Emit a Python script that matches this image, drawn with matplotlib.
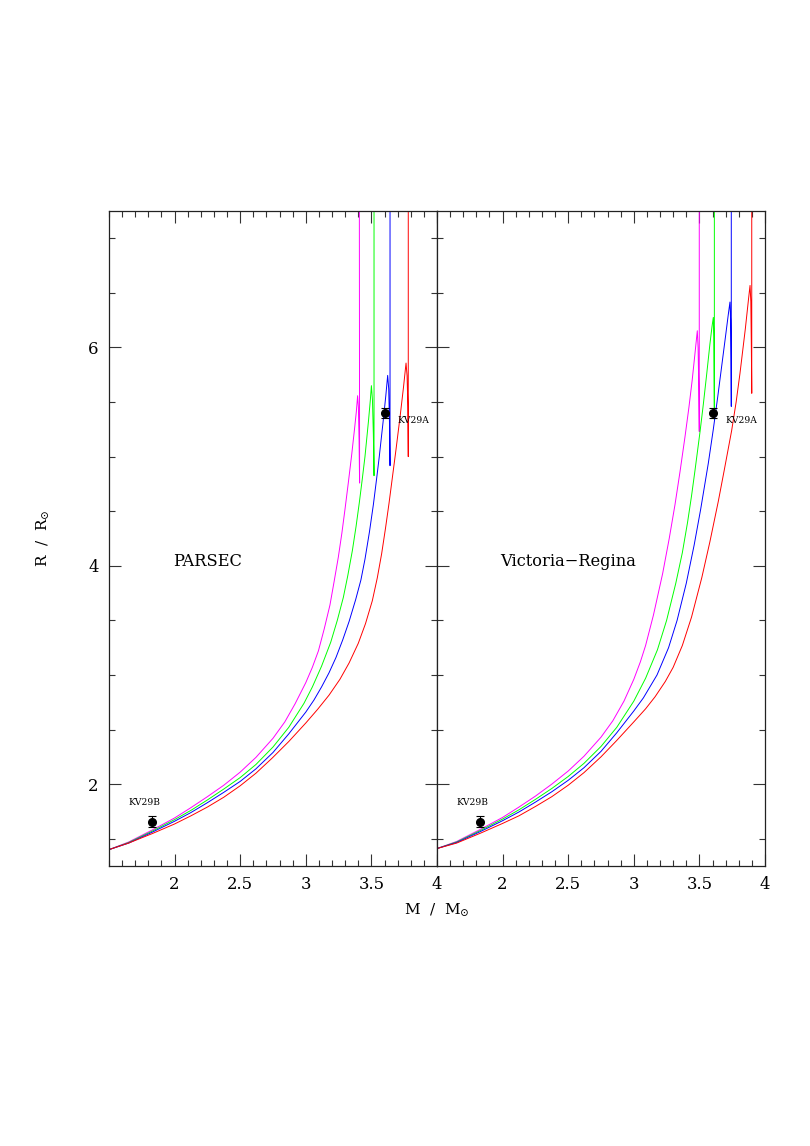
import numpy as np
import matplotlib
matplotlib.use("Agg")
import matplotlib.pyplot as plt
from matplotlib.ticker import MultipleLocator, FixedLocator, NullFormatter

plt.rcParams['font.family'] = ['DejaVu Serif']
plt.rcParams['mathtext.fontset'] = 'dejavuserif'

# -------------------------
# Isochrones, R (Rsun) vs M (Msun)
# -------------------------
# PARSEC
p_mag_m = [1.50, 1.65, 1.83, 2.00, 2.125, 2.25, 2.375, 2.50, 2.62, 2.75, 2.84, 2.918, 3.00, 3.05, 3.096, 3.14,
           3.184, 3.215, 3.248, 3.275, 3.299, 3.325, 3.35, 3.372, 3.385, 3.395, 3.401, 3.406, 3.41, 3.408]
p_mag_r = [1.40, 1.47, 1.58, 1.69, 1.785, 1.885, 1.99, 2.11, 2.245, 2.42, 2.57, 2.735, 2.93, 3.07, 3.22, 3.42,
           3.64, 3.85, 4.08, 4.30, 4.52, 4.77, 5.02, 5.26, 5.41, 5.558, 5.45, 5.15, 4.758, 7.5]

p_grn_m = [1.50, 1.65, 1.83, 2.00, 2.125, 2.25, 2.375, 2.50, 2.62, 2.75, 2.87, 2.986, 3.05, 3.12, 3.19, 3.24,
           3.286, 3.32, 3.355, 3.383, 3.408, 3.43, 3.451, 3.478, 3.492, 3.50, 3.508, 3.515, 3.52, 3.52]
p_grn_r = [1.40, 1.465, 1.57, 1.675, 1.76, 1.855, 1.955, 2.06, 2.18, 2.34, 2.52, 2.74, 2.89, 3.08, 3.30, 3.50,
           3.71, 3.91, 4.14, 4.36, 4.58, 4.79, 5.00, 5.33, 5.52, 5.65, 5.52, 5.20, 4.825, 7.5]

p_blu_m = [1.50, 1.65, 1.83, 2.00, 2.125, 2.25, 2.375, 2.50, 2.62, 2.75, 2.87, 3.00, 3.062, 3.12, 3.177, 3.23,
           3.281, 3.33, 3.38, 3.42, 3.451, 3.485, 3.515, 3.54, 3.56, 3.592, 3.61, 3.624, 3.632, 3.638, 3.642, 3.642]
p_blu_r = [1.40, 1.46, 1.56, 1.66, 1.74, 1.83, 1.925, 2.025, 2.14, 2.29, 2.46, 2.66, 2.77, 2.89, 3.02, 3.16,
           3.32, 3.49, 3.69, 3.87, 4.06, 4.31, 4.56, 4.80, 5.00, 5.35, 5.56, 5.744, 5.62, 5.30, 4.917, 7.5]

p_red_m = [1.50, 1.65, 1.83, 2.00, 2.125, 2.25, 2.375, 2.50, 2.62, 2.745, 2.87, 3.00, 3.09, 3.177, 3.26, 3.33,
           3.40, 3.455, 3.507, 3.545, 3.578, 3.607, 3.634, 3.66, 3.687, 3.72, 3.745, 3.764, 3.772, 3.778, 3.781, 3.781]
p_red_r = [1.40, 1.46, 1.547, 1.635, 1.71, 1.79, 1.88, 1.985, 2.10, 2.24, 2.39, 2.56, 2.685, 2.815, 2.96, 3.11,
           3.29, 3.47, 3.68, 3.89, 4.11, 4.34, 4.57, 4.81, 5.06, 5.38, 5.64, 5.857, 5.74, 5.45, 5.00, 7.5]

# Victoria-Regina
v_mag_m = [1.50, 1.65, 1.83, 2.00, 2.125, 2.25, 2.375, 2.50, 2.62, 2.75, 2.84, 2.925, 3.00, 3.05, 3.09, 3.15,
           3.22, 3.27, 3.314, 3.352, 3.39, 3.42, 3.445, 3.465, 3.477, 3.484, 3.49, 3.495, 3.499, 3.499]
v_mag_r = [1.41, 1.475, 1.585, 1.695, 1.79, 1.89, 2.00, 2.12, 2.255, 2.43, 2.58, 2.76, 2.96, 3.12, 3.27, 3.55,
           3.93, 4.25, 4.56, 4.86, 5.18, 5.45, 5.70, 5.93, 6.07, 6.153, 6.00, 5.65, 5.23, 7.5]

v_grn_m = [1.50, 1.65, 1.83, 2.00, 2.125, 2.25, 2.375, 2.50, 2.62, 2.75, 2.87, 3.00, 3.09, 3.18, 3.25, 3.32,
           3.37, 3.41, 3.44, 3.466, 3.505, 3.53, 3.556, 3.58, 3.596, 3.606, 3.61, 3.612, 3.614, 3.614]
v_grn_r = [1.41, 1.47, 1.575, 1.68, 1.765, 1.86, 1.96, 2.07, 2.19, 2.345, 2.52, 2.76, 2.97, 3.23, 3.50, 3.84,
           4.12, 4.40, 4.64, 4.87, 5.23, 5.48, 5.76, 6.03, 6.19, 6.275, 6.10, 5.75, 5.34, 7.5]

v_blu_m = [1.50, 1.65, 1.83, 2.00, 2.125, 2.25, 2.375, 2.50, 2.62, 2.75, 2.87, 3.00, 3.073, 3.177, 3.265, 3.33,
           3.40, 3.46, 3.51, 3.568, 3.606, 3.64, 3.67, 3.70, 3.72, 3.733, 3.738, 3.741, 3.743, 3.743]
v_blu_r = [1.41, 1.465, 1.565, 1.665, 1.745, 1.835, 1.93, 2.035, 2.15, 2.30, 2.47, 2.67, 2.79, 3.00, 3.25, 3.50,
           3.84, 4.19, 4.52, 4.94, 5.25, 5.55, 5.83, 6.11, 6.30, 6.416, 6.25, 5.90, 5.46, 7.5]

v_red_m = [1.50, 1.65, 1.83, 2.00, 2.125, 2.25, 2.375, 2.50, 2.62, 2.75, 2.87, 3.00, 3.09, 3.162, 3.24, 3.30,
           3.37, 3.44, 3.518, 3.58, 3.644, 3.69, 3.746, 3.78, 3.809, 3.85, 3.875, 3.886, 3.892, 3.896, 3.899, 3.899]
v_red_r = [1.41, 1.46, 1.55, 1.64, 1.71, 1.795, 1.885, 1.99, 2.105, 2.25, 2.40, 2.57, 2.69, 2.80, 2.94, 3.07,
           3.27, 3.53, 3.89, 4.22, 4.59, 4.88, 5.24, 5.50, 5.76, 6.17, 6.45, 6.568, 6.42, 6.00, 5.58, 7.5]

# KV29 binary components
star_names = ['KV29A', 'KV29B']
star_m = [3.60, 1.828]
star_r = [5.40, 1.655]
star_rerr = [0.05, 0.05]

panel_names = ['PARSEC', 'Victoria\u2212Regina']
colors = ['#ff00ff', '#00ff00', '#0000ff', '#ff0000']

panels = [
    [(p_mag_m, p_mag_r), (p_grn_m, p_grn_r), (p_blu_m, p_blu_r), (p_red_m, p_red_r)],
    [(v_mag_m, v_mag_r), (v_grn_m, v_grn_r), (v_blu_m, v_blu_r), (v_red_m, v_red_r)],
]

# -------------------------
# Figure
# -------------------------
fig = plt.figure(figsize=(8.1, 11.46), dpi=100)
W, H = 810, 1146
x0, x1, xm = 109, 765, 437
y0, y1 = 211, 866
axl = fig.add_axes([x0 / W, 1 - y1 / H, (xm - x0) / W, (y1 - y0) / H])
axr = fig.add_axes([xm / W, 1 - y1 / H, (x1 - xm) / W, (y1 - y0) / H])

for k, ax in enumerate([axl, axr]):
    for (m, r), c in zip(panels[k], colors):
        ax.plot(m, r, color=c, lw=0.7)

    ax.errorbar(star_m, star_r, yerr=star_rerr, fmt='o', color='k',
                ms=5.5, elinewidth=0.8, capsize=3.2, capthick=0.8)
    ax.text(3.70, 5.33, star_names[0], fontsize=6.6, va='center', ha='left')
    ax.text(1.645, 1.83, star_names[1], fontsize=6.6, va='center', ha='left')
    ax.text(1.985, 4.04, panel_names[k], fontsize=11.7, va='center', ha='left')

    ax.set_xlim(1.5, 4.0)
    ax.set_ylim(1.25, 7.25)
    ax.xaxis.set_major_locator(FixedLocator([2, 2.5, 3, 3.5, 4]))
    ax.xaxis.set_minor_locator(MultipleLocator(0.1))
    ax.yaxis.set_major_locator(FixedLocator([2, 4, 6]))
    ax.yaxis.set_minor_locator(MultipleLocator(0.5))
    ax.xaxis.set_major_formatter(plt.FuncFormatter(lambda v, p: '%g' % v))
    ax.tick_params(which='both', direction='in', top=True, right=True,
                   width=0.8, color='#333333')
    ax.tick_params(which='major', length=8.5, labelsize=11.9, pad=7.5)
    ax.tick_params(which='minor', length=4.3)
    for s in ax.spines.values():
        s.set_linewidth(0.9)
        s.set_color('#222222')

axr.yaxis.set_major_formatter(NullFormatter())

fig.text(xm / W, 1 - 910 / H, 'M  /  M$_{\\odot}$', fontsize=11, ha='center', va='center')
fig.text(43 / W, 1 - 538 / H, 'R  /  R$_{\\odot}$', fontsize=11, ha='center', va='center',
         rotation=90)

fig.savefig('out.png', dpi=100)
